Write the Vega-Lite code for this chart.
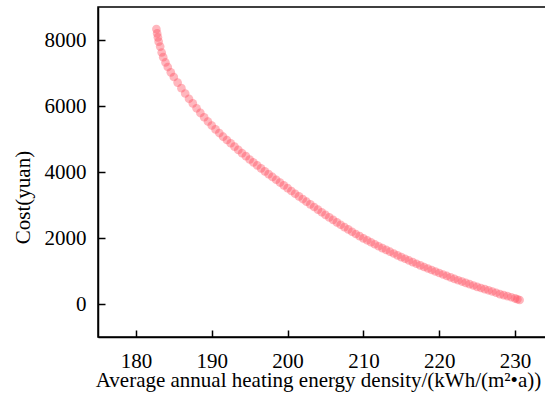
{
  "$schema": "https://vega.github.io/schema/vega-lite/v6.json",
  "autosize": "none",
  "padding": {"left": 98, "top": 7, "right": 0, "bottom": 56},
  "width": 455,
  "height": 330,
  "config": {
    "font": "Liberation Serif",
    "view": {"stroke": "black", "strokeWidth": 1.5},
    "axis": {
      "grid": false,
      "domainColor": "black",
      "domainWidth": 1.5,
      "tickColor": "black",
      "tickWidth": 1.5,
      "tickSize": -7,
      "labelFont": "Liberation Serif",
      "labelFontSize": 21,
      "labelColor": "black",
      "labelFlush": false,
      "labelOverlap": false,
      "titleFont": "Liberation Serif",
      "titleFontSize": 21,
      "titleFontWeight": "normal",
      "titleColor": "black"
    }
  },
  "data": {"values": [
    {"x": 182.7, "y": 8330}, {"x": 182.8, "y": 8200}, {"x": 182.9, "y": 8080}, {"x": 183.0, "y": 7950},
    {"x": 183.2, "y": 7800}, {"x": 183.4, "y": 7620}, {"x": 183.6, "y": 7480}, {"x": 183.9, "y": 7320},
    {"x": 184.2, "y": 7180}, {"x": 184.6, "y": 7020}, {"x": 185.0, "y": 6880}, {"x": 185.5, "y": 6710},
    {"x": 186.0, "y": 6540}, {"x": 186.5, "y": 6380}, {"x": 187.0, "y": 6220}, {"x": 187.5, "y": 6080},
    {"x": 188.0, "y": 5930}, {"x": 188.5, "y": 5790}, {"x": 189.0, "y": 5660}, {"x": 189.5, "y": 5530},
    {"x": 190.0, "y": 5410}, {"x": 190.5, "y": 5290}, {"x": 191.0, "y": 5180}, {"x": 191.5, "y": 5070},
    {"x": 192.0, "y": 4970}, {"x": 192.5, "y": 4870}, {"x": 193.0, "y": 4770}, {"x": 193.5, "y": 4670},
    {"x": 194.0, "y": 4570}, {"x": 194.5, "y": 4480}, {"x": 195.0, "y": 4380}, {"x": 195.5, "y": 4290},
    {"x": 196.0, "y": 4200}, {"x": 196.5, "y": 4110}, {"x": 197.0, "y": 4020}, {"x": 197.5, "y": 3935},
    {"x": 198.0, "y": 3850}, {"x": 198.5, "y": 3765}, {"x": 199.0, "y": 3680}, {"x": 199.5, "y": 3595},
    {"x": 200.0, "y": 3510}, {"x": 200.5, "y": 3425}, {"x": 201.0, "y": 3340}, {"x": 201.5, "y": 3260},
    {"x": 202.0, "y": 3180}, {"x": 202.5, "y": 3100}, {"x": 203.0, "y": 3020}, {"x": 203.5, "y": 2940},
    {"x": 204.0, "y": 2860}, {"x": 204.5, "y": 2780}, {"x": 205.0, "y": 2700}, {"x": 205.5, "y": 2625},
    {"x": 206.0, "y": 2550}, {"x": 206.5, "y": 2475}, {"x": 207.0, "y": 2400}, {"x": 207.5, "y": 2330},
    {"x": 208.0, "y": 2260}, {"x": 208.5, "y": 2190}, {"x": 209.0, "y": 2120}, {"x": 209.5, "y": 2055},
    {"x": 210.0, "y": 1990}, {"x": 210.5, "y": 1930}, {"x": 211.0, "y": 1870}, {"x": 211.5, "y": 1810},
    {"x": 212.0, "y": 1750}, {"x": 212.5, "y": 1695}, {"x": 213.0, "y": 1640}, {"x": 213.5, "y": 1585},
    {"x": 214.0, "y": 1530}, {"x": 214.5, "y": 1475}, {"x": 215.0, "y": 1420}, {"x": 215.5, "y": 1370},
    {"x": 216.0, "y": 1320}, {"x": 216.5, "y": 1270}, {"x": 217.0, "y": 1220}, {"x": 217.5, "y": 1170},
    {"x": 218.0, "y": 1120}, {"x": 218.5, "y": 1075}, {"x": 219.0, "y": 1030}, {"x": 219.5, "y": 985},
    {"x": 220.0, "y": 940}, {"x": 220.5, "y": 895}, {"x": 221.0, "y": 850}, {"x": 221.5, "y": 805},
    {"x": 222.0, "y": 760}, {"x": 222.5, "y": 720}, {"x": 223.0, "y": 680}, {"x": 223.5, "y": 640},
    {"x": 224.0, "y": 600}, {"x": 224.5, "y": 560}, {"x": 225.0, "y": 520}, {"x": 225.5, "y": 485},
    {"x": 226.0, "y": 450}, {"x": 226.5, "y": 415}, {"x": 227.0, "y": 380}, {"x": 227.5, "y": 340},
    {"x": 228.0, "y": 300}, {"x": 228.5, "y": 270}, {"x": 229.0, "y": 240}, {"x": 229.5, "y": 205},
    {"x": 230.0, "y": 170}, {"x": 230.3, "y": 145}, {"x": 230.6, "y": 120}
  ]},
  "mark": {"type": "circle", "size": 75, "color": "#ff4b5c", "opacity": 0.4, "clip": true},
  "encoding": {
    "x": {
      "field": "x", "type": "quantitative",
      "scale": {"domain": [175, 235], "nice": false, "zero": false},
      "axis": {
        "values": [180, 190, 200, 210, 220, 230],
        "format": "d",
        "labelFont": "Liberation Serif",
        "labelPadding": 20,
        "title": "Average annual heating energy density/(kWh/(m²•a))",
        "titleX": 220, "titleY": 49, "titleBaseline": "alphabetic", "titleAnchor": "middle"
      }
    },
    "y": {
      "field": "y", "type": "quantitative",
      "scale": {"domain": [-1000, 9000], "nice": false, "zero": false},
      "axis": {
        "values": [0, 2000, 4000, 6000, 8000],
        "format": "d",
        "labelFont": "Liberation Serif",
        "labelPadding": 19,
        "title": "Cost(yuan)",
        "titleX": -69, "titleY": 190, "titleBaseline": "alphabetic", "titleAngle": -90
      }
    }
  }
}
